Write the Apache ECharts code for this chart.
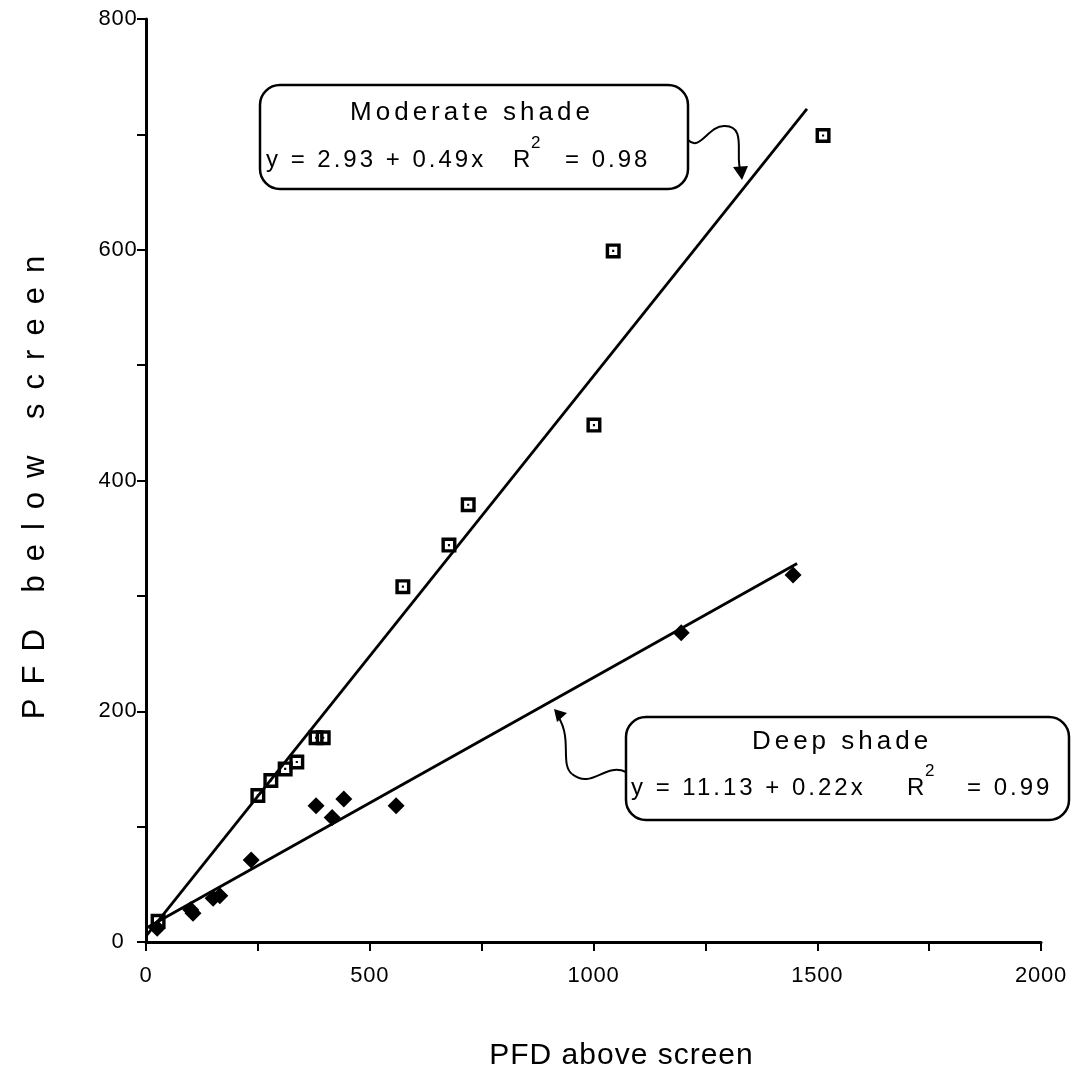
<!DOCTYPE html>
<html><head><meta charset="utf-8">
<script src="https://cdn.jsdelivr.net/npm/echarts@6/dist/echarts.min.js"></script>
<style>html,body{margin:0;padding:0;background:#fff}#c{width:1077px;height:1081px}</style>
</head><body><div id="c"></div>
<script>
// ---- data ----
const xTickLabels = [0, 500, 1000, 1500, 2000];
const yTickLabels = [0, 200, 400, 600, 800];
const moderateX = [27, 250, 279, 311, 337, 380, 396, 574, 677, 720, 1001, 1044, 1513];
const moderateY = [18, 127, 140, 150, 156, 177, 177, 308, 344, 379, 448, 599, 699];
const deepX = [25, 100, 105, 150, 165, 235, 380, 416, 442, 559, 1196, 1446];
const deepY = [12, 28, 25, 38, 40, 71, 118, 108, 124, 118, 268, 318];
const moderateLineX = [0, 1477];
const moderateLineY = [5, 722];
const deepLineX = [0, 1455];
const deepLineY = [12, 328];

// letter spacing per font size (the reference text is widely tracked)
const spacing = {31: 14, 30: 1, 26: 4, 24: 3, 22: 0.8};
const origFill = CanvasRenderingContext2D.prototype.fillText;
CanvasRenderingContext2D.prototype.fillText = function (t, x, y, m) {
  const mm = /(\d+(?:\.\d+)?)px/.exec(this.font);
  const ls = mm ? spacing[Math.round(parseFloat(mm[1]))] : 0;
  const call = () => (m === undefined ? origFill.call(this, t, x, y) : origFill.call(this, t, x, y, m));
  if (ls && 'letterSpacing' in this) {
    const prev = this.letterSpacing;
    this.letterSpacing = ls + 'px';
    call();
    this.letterSpacing = prev;
  } else {
    call();
  }
};

const zip = (a, b) => a.map((v, i) => [v, b[i]]);
const FONT = 'Liberation Sans';
const squareSym = 'path://M0,0H14V14H0Z M3.2,3.2V10.8H10.8V3.2Z M6,6H8V8H6Z';

const chart = echarts.init(document.getElementById('c'), null, {renderer: 'canvas'});

function txt(x, y, s, size, align) {
  return {type: 'text', x: x, y: y, z: 20, style: {text: s, fontFamily: FONT, fontSize: size,
    fill: '#000', align: align || 'center', verticalAlign: 'middle'}};
}
function curve(x1, y1, c1x, c1y, c2x, c2y, x2, y2) {
  return {type: 'bezierCurve', z: 20, shape: {x1: x1, y1: y1, cpx1: c1x, cpy1: c1y, cpx2: c2x, cpy2: c2y, x2: x2, y2: y2},
    style: {stroke: '#000', lineWidth: 2, fill: null}};
}

chart.setOption({
  animation: false,
  backgroundColor: '#fff',
  grid: {left: 146, right: 36, top: 19, bottom: 139},
  xAxis: {
    type: 'value', min: 0, max: 2000, interval: 250,
    name: 'PFD above screen', nameLocation: 'middle', nameGap: 99,
    nameTextStyle: {fontFamily: FONT, fontSize: 30, color: '#000', padding: [0, 0, 0, 56]},
    axisLine: {onZero: false, lineStyle: {color: '#000', width: 3}},
    axisTick: {length: 9, lineStyle: {color: '#000', width: 2}},
    axisLabel: {margin: 23, fontFamily: FONT, fontSize: 22, color: '#000',
      formatter: v => xTickLabels.indexOf(v) >= 0 ? String(v) : ''},
    splitLine: {show: false}
  },
  yAxis: {
    type: 'value', min: 0, max: 800, interval: 100,
    name: 'PFD below screen', nameLocation: 'middle', nameGap: 95,
    nameTextStyle: {fontFamily: FONT, fontSize: 31, color: '#000'},
    axisLine: {onZero: false, lineStyle: {color: '#000', width: 3}},
    axisTick: {length: 9, lineStyle: {color: '#000', width: 2}},
    axisLabel: {margin: 28, align: 'center', fontFamily: FONT, fontSize: 22, color: '#000',
      formatter: v => yTickLabels.indexOf(v) >= 0 ? String(v) : ''},
    splitLine: {show: false}
  },
  series: [
    {type: 'line', data: zip(moderateLineX, moderateLineY), symbol: 'none', silent: true,
      lineStyle: {color: '#000', width: 2.8}, z: 2},
    {type: 'line', data: zip(deepLineX, deepLineY), symbol: 'none', silent: true,
      lineStyle: {color: '#000', width: 2.8}, z: 2},
    {type: 'scatter', name: 'Moderate shade', data: zip(moderateX, moderateY), symbol: squareSym,
      symbolSize: 15, itemStyle: {color: '#000', opacity: 1}, z: 3},
    {type: 'scatter', name: 'Deep shade', data: zip(deepX, deepY), symbol: 'diamond',
      symbolSize: [17, 17], itemStyle: {color: '#000', opacity: 1}, z: 3}
  ],
  graphic: [
    // Moderate shade box
    {type: 'rect', z: 10, shape: {x: 260, y: 85, width: 428, height: 104, r: 20},
      style: {fill: '#fff', stroke: '#000', lineWidth: 2.5}},
    txt(472, 113, 'Moderate shade', 26),
    txt(266, 160, 'y = 2.93 + 0.49x', 24, 'left'),
    txt(513, 160, 'R', 24, 'left'),
    txt(531, 143, '2', 17, 'left'),
    txt(565, 160, '= 0.98', 24, 'left'),
    curve(688, 140, 700, 152, 708, 126, 724, 126),
    curve(724, 126, 748, 125, 734, 158, 741, 172),
    {type: 'polygon', z: 20, shape: {points: [[733, 167], [742, 180], [748, 166]]}, style: {fill: '#000'}},
    // Deep shade box
    {type: 'rect', z: 10, shape: {x: 626, y: 717, width: 443, height: 103, r: 20},
      style: {fill: '#fff', stroke: '#000', lineWidth: 2.5}},
    txt(842, 742, 'Deep shade', 26),
    txt(631, 788, 'y = 11.13 + 0.22x', 24, 'left'),
    txt(907, 788, 'R', 24, 'left'),
    txt(925, 771, '2', 17, 'left'),
    txt(967, 788, '= 0.99', 24, 'left'),
    curve(626, 772, 605, 762, 592, 790, 572, 774),
    curve(572, 774, 560, 764, 572, 740, 559, 718),
    {type: 'polygon', z: 20, shape: {points: [[554, 709], [567, 713], [557, 722]]}, style: {fill: '#000'}}
  ]
});
</script>
</body></html>
